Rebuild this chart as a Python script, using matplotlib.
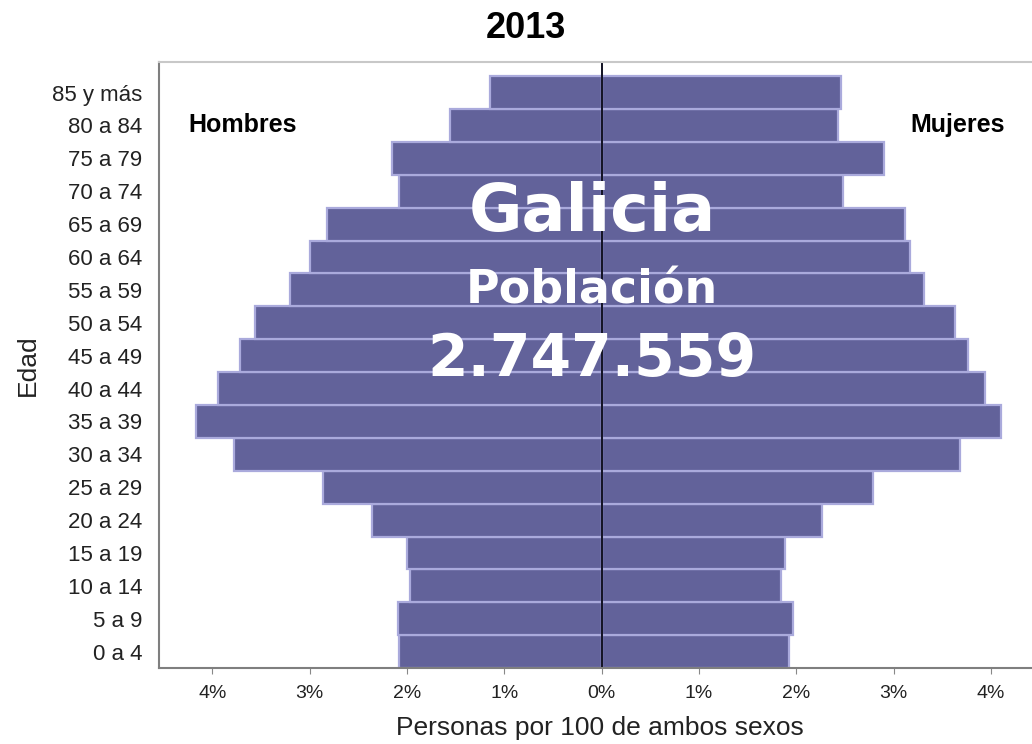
import numpy as np
import matplotlib
matplotlib.use("Agg")
import matplotlib.pyplot as plt

# age groups, bottom to top
edades = ["0 a 4", "5 a 9", "10 a 14", "15 a 19", "20 a 24", "25 a 29",
          "30 a 34", "35 a 39", "40 a 44", "45 a 49", "50 a 54", "55 a 59",
          "60 a 64", "65 a 69", "70 a 74", "75 a 79", "80 a 84", "85 y más"]
hombres = [2.08, 2.09, 1.97, 2.00, 2.36, 2.86, 3.78, 4.17, 3.94, 3.72,
           3.56, 3.20, 3.00, 2.82, 2.08, 2.16, 1.56, 1.15]
mujeres = [1.92, 1.96, 1.84, 1.88, 2.26, 2.79, 3.68, 4.10, 3.94, 3.76,
           3.63, 3.31, 3.17, 3.12, 2.48, 2.90, 2.43, 2.46]
xticks = [-4, -3, -2, -1, 0, 1, 2, 3, 4]

plt.rcParams['font.family'] = ['Liberation Sans', 'DejaVu Sans']
bar_col = "#62629a"
edge_col = "#aaaadc"

fig = plt.figure(figsize=(10.32, 7.44), dpi=100)
ax = fig.add_axes([0.154, 0.102, 0.846, 0.8147])

y = np.arange(len(edades))
ax.barh(y, -np.array(hombres), height=1.0, color=bar_col,
        edgecolor=edge_col, linewidth=1.6)
ax.barh(y, mujeres, height=1.0, color=bar_col,
        edgecolor=edge_col, linewidth=1.6)
ax.axvline(0, color="#111122", lw=1.4)

ax.set_xlim(-4.55, 4.42)
ax.set_ylim(-0.5, 17.93)
ax.set_yticks(y)
ax.set_yticklabels(edades, fontsize=16, color="#222222")
ax.set_xticks(xticks)
ax.set_xticklabels([f"{abs(t)}%" for t in xticks], fontsize=14, color="#222222")
ax.tick_params(axis='y', length=0, pad=12)
ax.tick_params(axis='x', length=4, color="#888888", pad=8)

for s in ["left", "bottom"]:
    ax.spines[s].set_color("#7f7f7f")
    ax.spines[s].set_linewidth(1.5)
ax.spines["top"].set_color("#c8c8c8")
ax.spines["top"].set_linewidth(1.5)
ax.spines["right"].set_visible(False)

ax.set_xlabel("Personas por 100 de ambos sexos", fontsize=19, color="#222222",
              va="center")
ax.xaxis.set_label_coords(0.505, -0.099)
ax.set_ylabel("Edad", fontsize=19, color="#222222", va="center")
ax.yaxis.set_label_coords(-0.150, 0.5)

fig.text(0.51, 0.962, "2013", ha="center", va="center", fontsize=26,
         fontweight="bold")

ax.text(-4.25, 16.0, "Hombres", fontsize=18, fontweight="bold",
        ha="left", va="center")
ax.text(4.14, 16.0, "Mujeres", fontsize=18, fontweight="bold",
        ha="right", va="center")

for txt, yy, fs in [("Galicia", 13.34, 47), ("Población", 10.98, 33),
                    ("2.747.559", 8.88, 42)]:
    ax.text(-0.1, yy, txt, color="white", fontsize=fs, fontweight="bold",
            ha="center", va="center", family=['DejaVu Sans'])

fig.savefig("out.png", dpi=100)
